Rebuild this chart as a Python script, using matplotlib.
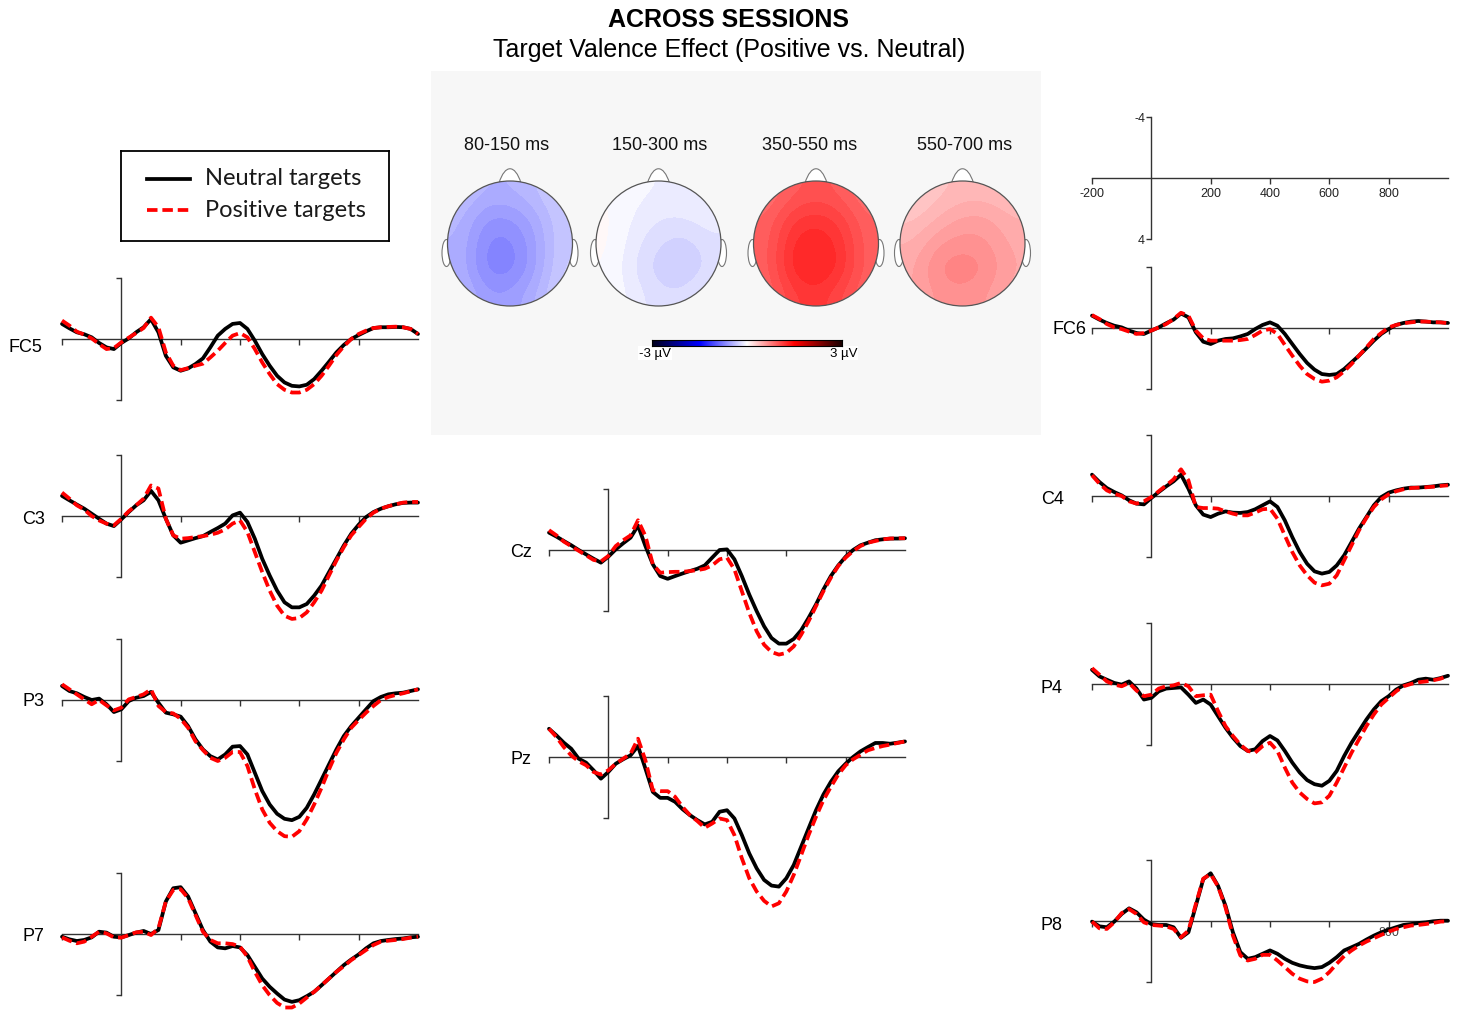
import numpy as np
import matplotlib
matplotlib.use('Agg')
import matplotlib.pyplot as plt
from matplotlib.colors import LinearSegmentedColormap
from matplotlib.patches import Circle, Ellipse, PathPatch
from matplotlib.path import Path

plt.rcParams['font.family'] = ['Liberation Sans', 'DejaVu Sans']
plt.rcParams['axes.unicode_minus'] = False

W, H = 1458, 1012

# ---------------------------------------------------------------- data
times = np.arange(-200, 1001, 25)   # ms

FC5_neu = [-0.99, -0.70, -0.44, -0.31, -0.11, 0.26, 0.55, 0.66,
           0.26, -0.04, -0.44, -0.77, -1.30, -0.44, 1.10, 1.86,
           2.08, 1.93, 1.64, 1.27, 0.55, -0.22, -0.66, -0.99,
           -1.05, -0.66, 0.11, 0.99, 1.75, 2.41, 2.85, 3.07,
           3.11, 3.00, 2.63, 2.08, 1.49, 0.88, 0.39, 0.00,
           -0.26, -0.50, -0.72, -0.77, -0.77, -0.79, -0.77, -0.66, -0.33]
FC5_pos = [-1.21, -0.88, -0.48, -0.29, -0.04, 0.33, 0.66, 0.59,
           0.22, -0.09, -0.39, -0.72, -1.40, -0.77, 0.88, 1.75,
           2.04, 1.91, 1.75, 1.62, 1.21, 0.77, 0.26, -0.22,
           -0.39, -0.11, 0.66, 1.54, 2.30, 2.96, 3.33, 3.51,
           3.51, 3.33, 2.96, 2.41, 1.75, 1.05, 0.48, 0.00,
           -0.33, -0.55, -0.72, -0.77, -0.79, -0.81, -0.77, -0.66, -0.33]

C3_neu = [-1.32, -1.03, -0.75, -0.48, -0.15, 0.18, 0.50, 0.66,
          0.22, -0.26, -0.70, -1.03, -1.65, -1.03, 0.18, 1.27,
          1.75, 1.60, 1.45, 1.32, 1.05, 0.79, 0.50, -0.04,
          -0.22, 0.39, 1.49, 2.81, 3.90, 4.89, 5.66, 5.99,
          5.99, 5.77, 5.22, 4.56, 3.68, 2.81, 1.93, 1.16,
          0.57, 0.07, -0.26, -0.48, -0.64, -0.77, -0.86, -0.88, -0.88]
C3_pos = [-1.54, -1.14, -0.70, -0.42, 0.00, 0.29, 0.50, 0.61,
          0.18, -0.31, -0.70, -1.14, -2.00, -1.80, 0.18, 1.27,
          1.49, 1.45, 1.38, 1.32, 1.23, 1.10, 0.88, 0.50,
          0.29, 1.05, 2.37, 3.68, 4.89, 5.88, 6.54, 6.75,
          6.69, 6.32, 5.66, 4.89, 3.90, 2.92, 2.04, 1.27,
          0.72, 0.18, -0.22, -0.48, -0.64, -0.77, -0.88, -0.92, -0.92]

P3_neu = [-0.92, -0.59, -0.44, -0.20, 0.00, -0.09, 0.28, 0.79,
          0.61, 0.07, -0.15, -0.26, -0.53, 0.18, 0.83, 0.94,
          1.09, 1.71, 2.58, 3.24, 3.68, 3.90, 3.57, 3.06,
          3.02, 3.57, 4.77, 5.97, 6.85, 7.46, 7.79, 7.88,
          7.66, 7.07, 6.19, 5.21, 4.22, 3.24, 2.36, 1.71,
          1.16, 0.61, 0.07, -0.20, -0.37, -0.44, -0.48, -0.59, -0.70]
P3_pos = [-1.03, -0.70, -0.37, -0.04, 0.28, 0.00, 0.35, 0.68,
          0.50, -0.04, -0.20, -0.37, -0.70, 0.39, 0.79, 0.88,
          1.23, 1.82, 2.71, 3.28, 3.79, 4.00, 3.79, 3.41,
          3.41, 4.33, 5.86, 7.18, 8.05, 8.60, 8.93, 8.97,
          8.60, 7.83, 6.85, 5.75, 4.55, 3.46, 2.58, 1.82,
          1.31, 0.83, 0.39, 0.00, -0.20, -0.33, -0.44, -0.57, -0.70]

P7_neu = [0.18, 0.35, 0.46, 0.39, 0.22, -0.15, -0.09, 0.18,
          0.22, 0.07, -0.09, -0.20, 0.00, -0.26, -2.13, -3.00,
          -3.07, -2.46, -1.36, -0.26, 0.50, 0.88, 0.94, 0.79,
          0.88, 1.38, 2.15, 2.92, 3.46, 3.90, 4.30, 4.45,
          4.34, 4.08, 3.79, 3.36, 2.92, 2.48, 2.04, 1.67,
          1.34, 0.94, 0.61, 0.46, 0.39, 0.33, 0.29, 0.22, 0.18]
P7_pos = [0.22, 0.44, 0.61, 0.50, 0.18, -0.15, -0.04, 0.22,
          0.24, 0.07, -0.11, -0.15, 0.07, -0.37, -2.13, -2.89,
          -2.94, -2.35, -1.25, -0.15, 0.39, 0.61, 0.61, 0.66,
          0.83, 1.49, 2.48, 3.36, 4.01, 4.52, 4.82, 4.82,
          4.56, 4.17, 3.79, 3.36, 2.92, 2.48, 2.11, 1.71,
          1.38, 1.05, 0.72, 0.50, 0.44, 0.39, 0.33, 0.24, 0.18]

Cz_neu = [-1.14, -0.88, -0.59, -0.31, 0.00, 0.29, 0.57, 0.83,
          0.44, -0.04, -0.44, -0.81, -1.60, -0.26, 0.94, 1.71,
          1.89, 1.71, 1.54, 1.38, 1.23, 1.01, 0.50, 0.00,
          -0.04, 0.61, 1.71, 2.92, 4.01, 5.00, 5.77, 6.14,
          6.14, 5.83, 5.26, 4.45, 3.57, 2.59, 1.71, 1.01,
          0.44, 0.00, -0.31, -0.48, -0.64, -0.70, -0.75, -0.75, -0.77]
Cz_pos = [-1.30, -0.96, -0.55, -0.25, 0.05, 0.35, 0.65, 0.75,
          0.39, -0.26, -0.64, -0.96, -1.95, -0.92, 0.94, 1.49,
          1.45, 1.43, 1.43, 1.38, 1.32, 1.23, 1.01, 0.61,
          0.50, 1.27, 2.70, 4.12, 5.33, 6.21, 6.69, 6.86,
          6.75, 6.32, 5.55, 4.67, 3.68, 2.70, 1.82, 1.05,
          0.50, 0.07, -0.26, -0.48, -0.59, -0.70, -0.75, -0.77, -0.77]

Pz_neu = [-1.85, -1.42, -0.94, -0.54, 0.11, 0.37, 0.87, 1.42,
          0.98, 0.44, 0.15, -0.11, -0.72, 0.76, 2.29, 2.68,
          2.68, 2.94, 3.42, 3.81, 4.14, 4.42, 4.25, 3.59,
          3.49, 4.03, 5.12, 6.32, 7.30, 8.06, 8.43, 8.50,
          7.95, 7.08, 5.88, 4.68, 3.49, 2.46, 1.63, 0.94,
          0.44, 0.00, -0.37, -0.65, -0.92, -0.92, -0.87, -0.94, -1.02]
Pz_pos = [-1.85, -1.31, -0.65, -0.10, 0.28, 0.54, 0.98, 1.15,
          0.87, 0.44, 0.11, -0.22, -1.20, 0.22, 2.18, 2.24,
          2.24, 2.61, 3.27, 3.81, 4.20, 4.64, 4.36, 4.03,
          4.14, 5.12, 6.64, 7.95, 8.82, 9.43, 9.80, 9.59,
          8.82, 7.73, 6.43, 5.12, 3.92, 2.83, 1.96, 1.15,
          0.54, 0.15, -0.15, -0.44, -0.59, -0.72, -0.81, -0.92, -1.02]

FC6_neu = [-0.81, -0.55, -0.33, -0.15, -0.04, 0.17, 0.33, 0.39,
           0.17, -0.04, -0.31, -0.55, -0.95, -0.70, 0.28, 0.90,
           1.05, 0.83, 0.72, 0.68, 0.55, 0.39, 0.07, -0.20,
           -0.37, -0.15, 0.39, 1.05, 1.70, 2.29, 2.73, 3.02,
           3.08, 3.02, 2.69, 2.25, 1.81, 1.33, 0.83, 0.39,
           0.07, -0.20, -0.33, -0.42, -0.46, -0.42, -0.37, -0.37, -0.33]
FC6_pos = [-0.85, -0.59, -0.26, -0.04, 0.07, 0.24, 0.39, 0.33,
           0.17, -0.04, -0.26, -0.59, -1.00, -0.81, 0.17, 0.68,
           0.83, 0.83, 0.83, 0.83, 0.79, 0.72, 0.46, 0.17,
           0.07, 0.39, 1.11, 1.81, 2.47, 3.02, 3.34, 3.52,
           3.45, 3.23, 2.84, 2.36, 1.81, 1.27, 0.72, 0.33,
           -0.04, -0.20, -0.31, -0.37, -0.42, -0.42, -0.39, -0.37, -0.31]

C4_neu = [-1.40, -0.92, -0.52, -0.26, -0.04, 0.28, 0.50, 0.55,
          0.13, -0.26, -0.63, -0.96, -1.40, -0.48, 0.61, 1.22,
          1.38, 1.16, 1.01, 1.09, 1.11, 1.05, 0.87, 0.61,
          0.35, 0.72, 1.60, 2.69, 3.67, 4.44, 4.94, 5.09,
          4.98, 4.55, 3.89, 3.02, 2.14, 1.38, 0.61, 0.07,
          -0.22, -0.37, -0.48, -0.55, -0.55, -0.59, -0.63, -0.70, -0.74]
C4_pos = [-1.36, -0.81, -0.37, -0.15, 0.00, 0.35, 0.50, 0.35,
          0.07, -0.31, -0.70, -1.09, -1.75, -1.03, 0.72, 0.79,
          0.79, 0.83, 1.01, 1.16, 1.27, 1.27, 1.09, 0.87,
          0.83, 1.49, 2.59, 3.67, 4.55, 5.20, 5.68, 5.86,
          5.75, 5.20, 4.22, 3.23, 2.25, 1.44, 0.72, 0.22,
          -0.11, -0.31, -0.44, -0.52, -0.55, -0.57, -0.61, -0.66, -0.70]

P4_neu = [-0.93, -0.50, -0.28, -0.07, 0.04, -0.17, 0.30, 1.02,
          0.91, 0.48, 0.30, 0.26, 0.22, 0.70, 1.24, 1.02,
          1.35, 2.11, 2.87, 3.52, 4.07, 4.39, 4.28, 3.74,
          3.41, 3.70, 4.39, 5.15, 5.80, 6.30, 6.57, 6.67,
          6.35, 5.70, 4.72, 3.85, 3.09, 2.33, 1.67, 1.13,
          0.80, 0.37, 0.09, -0.07, -0.28, -0.35, -0.28, -0.39, -0.54]
P4_pos = [-1.04, -0.61, -0.17, 0.04, 0.15, -0.07, 0.43, 0.80,
          0.70, 0.30, 0.15, 0.09, -0.07, 0.15, 0.80, 0.74,
          0.70, 1.78, 2.76, 3.41, 3.98, 4.39, 4.50, 4.07,
          3.85, 4.39, 5.48, 6.46, 7.11, 7.54, 7.83, 7.76,
          7.33, 6.46, 5.48, 4.50, 3.63, 2.76, 2.00, 1.35,
          0.91, 0.48, 0.15, 0.00, -0.11, -0.17, -0.24, -0.35, -0.54]

P8_neu = [0.04, 0.35, 0.41, 0.04, -0.46, -0.83, -0.57, -0.09,
          0.20, 0.26, 0.26, 0.41, 1.10, 0.74, -1.00, -2.74,
          -3.13, -2.30, -1.00, 0.74, 2.04, 2.48, 2.37, 2.15,
          1.93, 2.15, 2.48, 2.74, 2.91, 3.02, 3.09, 3.02,
          2.74, 2.37, 1.93, 1.72, 1.50, 1.22, 0.96, 0.74,
          0.57, 0.41, 0.26, 0.20, 0.13, 0.09, 0.02, -0.02, -0.02]
P8_pos = [0.04, 0.48, 0.52, 0.09, -0.52, -0.78, -0.46, 0.09,
          0.26, 0.30, 0.35, 0.52, 1.07, 0.63, -1.11, -2.78,
          -3.07, -2.26, -0.89, 0.96, 2.26, 2.59, 2.48, 2.22,
          2.22, 2.59, 3.02, 3.46, 3.78, 3.96, 4.00, 3.78,
          3.35, 2.80, 2.30, 1.93, 1.61, 1.35, 1.13, 0.91,
          0.70, 0.52, 0.41, 0.30, 0.26, 0.20, 0.13, 0.04, 0.02]

# topographic maps: 5x5 grid, rows front -> back, columns left -> right (uV)
map_titles = ['80-150 ms', '150-300 ms', '350-550 ms', '550-700 ms']
topo_80_150 = [[-0.35, -0.45, -0.45, -0.38, -0.25],
               [-0.42, -0.62, -0.62, -0.50, -0.30],
               [-0.45, -0.70, -0.72, -0.55, -0.30],
               [-0.45, -0.72, -0.74, -0.55, -0.28],
               [-0.40, -0.58, -0.58, -0.45, -0.25]]
topo_150_300 = [[0.00, -0.05, -0.08, -0.08, -0.05],
                [0.02, -0.08, -0.15, -0.15, -0.10],
                [0.02, -0.12, -0.22, -0.28, -0.18],
                [0.00, -0.15, -0.28, -0.32, -0.20],
                [0.00, -0.10, -0.20, -0.20, -0.12]]
topo_350_550 = [[0.80, 0.95, 1.00, 0.95, 0.80],
                [0.90, 1.12, 1.18, 1.10, 0.90],
                [0.92, 1.22, 1.30, 1.18, 0.92],
                [0.92, 1.25, 1.32, 1.20, 0.92],
                [0.88, 1.10, 1.18, 1.05, 0.88]]
topo_550_700 = [[0.25, 0.35, 0.40, 0.40, 0.35],
                [0.35, 0.45, 0.55, 0.55, 0.45],
                [0.45, 0.60, 0.65, 0.62, 0.50],
                [0.50, 0.70, 0.75, 0.68, 0.52],
                [0.50, 0.62, 0.65, 0.60, 0.48]]

# ---------------------------------------------------------------- layout
# (name, neutral, positive, x of -200 ms, y of 0 uV, label x, label y) in pixels
panels = [
    ('FC5', FC5_neu, FC5_pos, 62, 340, 8, 347),
    ('C3', C3_neu, C3_pos, 62, 517, 22, 519),
    ('P3', P3_neu, P3_pos, 62, 701, 22, 702),
    ('P7', P7_neu, P7_pos, 62, 935, 22, 937),
    ('Cz', Cz_neu, Cz_pos, 549, 551, 510, 553),
    ('Pz', Pz_neu, Pz_pos, 549, 758, 510, 760),
    ('FC6', FC6_neu, FC6_pos, 1092, 329, 1052, 329),
    ('C4', C4_neu, C4_pos, 1092, 497, 1041, 500),
    ('P4', P4_neu, P4_pos, 1092, 685, 1041, 689),
    ('P8', P8_neu, P8_pos, 1092, 922, 1041, 926),
]

AX_COL = '#333333'


def erp_axes(fig, x0, y0, show_labels=False):
    ax = fig.add_axes([x0 / W, 1 - (y0 + 61) / H, 356 / W, 122 / H])
    ax.set_xlim(-200, 1000)
    ax.set_ylim(4, -4)
    ax.patch.set_alpha(0)
    for s in ['top', 'right']:
        ax.spines[s].set_visible(False)
    ax.spines['left'].set_position(('data', 0))
    ax.spines['bottom'].set_position(('data', 0))
    for s in ['left', 'bottom']:
        ax.spines[s].set_color(AX_COL)
        ax.spines[s].set_linewidth(1.0)
    ax.set_xticks([-200, 200, 400, 600, 800])
    ax.set_yticks([-4, 4])
    ax.tick_params(axis='x', direction='out', length=4.5, width=1.0,
                   color=AX_COL, labelsize=9, pad=2, labelcolor='#222222')
    ax.tick_params(axis='y', direction='out', length=3.5, width=1.0,
                   color=AX_COL, labelsize=9, pad=1, labelcolor='#222222')
    if show_labels:
        ax.set_xticklabels(['-200', '200', '400', '600', '800'])
        ax.set_yticklabels(['-4', '4'])
    else:
        ax.set_xticklabels([])
        ax.set_yticklabels([])
    return ax


fig = plt.figure(figsize=(W / 100, H / 100), dpi=100)

fig.text(729 / W, 1 - 20 / H, 'ACROSS SESSIONS', ha='center', va='center',
         fontsize=18, fontweight='bold')
fig.text(729 / W, 1 - 50 / H, 'Target Valence Effect (Positive vs. Neutral)',
         ha='center', va='center', fontsize=18)

# scale panel
erp_axes(fig, 1092, 179, show_labels=True)

for name, neu, pos, x0, y0, lx, ly in panels:
    ax = erp_axes(fig, x0, y0)
    if name == 'P8':
        ax.text(800, 0.7, '800', ha='center', va='center', fontsize=9,
                color='#444444', zorder=1)
    ax.plot(times, neu, color='black', lw=2.7, clip_on=False, zorder=3,
            solid_joinstyle='round', solid_capstyle='round')
    ax.plot(times, pos, color='#ff0000', lw=2.7, ls=(0, (2.8, 1.3)),
            clip_on=False, zorder=4, dash_joinstyle='round')
    fig.text(lx / W, 1 - ly / H, name, ha='left', va='center', fontsize=13)

# legend box
lg = fig.add_axes([121 / W, 1 - 242 / H, 268 / W, 90 / H])
lg.set_xlim(121, 389)
lg.set_ylim(242, 152)
lg.set_xticks([])
lg.set_yticks([])
for s in lg.spines.values():
    s.set_linewidth(1.3)
    s.set_color('black')
lg.plot([147, 190], [180, 180], color='black', lw=2.7)
lg.plot([147, 190], [211, 211], color='#ff0000', lw=2.7, ls=(0, (2.8, 1.3)))
lg.text(205, 179, 'Neutral targets', va='center', ha='left', fontsize=17,
        family=['Lato', 'DejaVu Sans'], color='#1a1a1a')
lg.text(205, 211, 'Positive targets', va='center', ha='left', fontsize=17,
        family=['Lato', 'DejaVu Sans'], color='#1a1a1a')

# topographic maps
cm_band = LinearSegmentedColormap.from_list(
    'eeg_band', [(0, '#00001a'), (0.25, '#0000ff'), (0.5, '#ffffff'),
                 (0.75, '#ff0000'), (1, '#1a0000')], N=80)
cm_smooth = LinearSegmentedColormap.from_list(
    'eeg', [(0, '#00001a'), (0.25, '#0000ff'), (0.5, '#ffffff'),
            (0.75, '#ff0000'), (1, '#1a0000')], N=256)

tp = fig.add_axes([431 / W, 1 - 436 / H, 610 / W, 364 / H])
tp.set_facecolor('#f7f7f7')
tp.set_xticks([])
tp.set_yticks([])
for s in tp.spines.values():
    s.set_visible(False)

topo_maps = [topo_80_150, topo_150_300, topo_350_550, topo_550_700]
head_cx = [510, 658.5, 816, 962.5]
title_cx = [507, 660, 810, 965]
cy, r = 244.5, 62.5
for vals, cx, tx, title in zip(topo_maps, head_cx, title_cx, map_titles):
    tp.text(tx, 146, title, ha='center', va='center', fontsize=13,
            color='#111111')
    for ex in (cx - r - 1, cx + r + 1):
        tp.add_patch(Ellipse((ex, 254), 9, 27, facecolor='white',
                             edgecolor='#777777', lw=0.8, zorder=1))
    nose = Path([(cx - 11, cy - r + 2), (cx - 5, cy - r - 17),
                 (cx + 5, cy - r - 17), (cx + 11, cy - r + 2)],
                [Path.MOVETO, Path.CURVE4, Path.CURVE4, Path.CURVE4])
    tp.add_patch(PathPatch(nose, facecolor='white', edgecolor='#777777',
                           lw=0.8, zorder=1))
    im = tp.imshow(np.array(vals), cmap=cm_band, vmin=-3, vmax=3,
                   interpolation='bicubic', interpolation_stage='data',
                   extent=(cx - r, cx + r, cy + r, cy - r), origin='upper',
                   aspect='auto', zorder=2)
    clip = Circle((cx, cy), r, transform=tp.transData)
    im.set_clip_path(clip)
    tp.add_patch(Circle((cx, cy), r, fill=False, edgecolor='#555555',
                        lw=0.9, zorder=3))
tp.set_xlim(431, 1041)
tp.set_ylim(436, 72)

# colour bar
cb = fig.add_axes([652 / W, 1 - 347 / H, 190 / W, 6 / H])
cb.imshow(np.linspace(-3, 3, 256)[None, :], cmap=cm_smooth, vmin=-3, vmax=3,
          aspect='auto', extent=(-3, 3, 0, 1))
cb.set_xticks([])
cb.set_yticks([])
for s in cb.spines.values():
    s.set_linewidth(0.8)
tp.text(655, 354, '-3 \u00b5V', ha='center', va='center', fontsize=9.5,
        bbox=dict(facecolor='white', edgecolor='none', pad=0.5), zorder=5)
tp.text(844, 354, '3 \u00b5V', ha='center', va='center', fontsize=9.5,
        bbox=dict(facecolor='white', edgecolor='none', pad=0.5), zorder=5)

fig.savefig('out.png', dpi=100)
